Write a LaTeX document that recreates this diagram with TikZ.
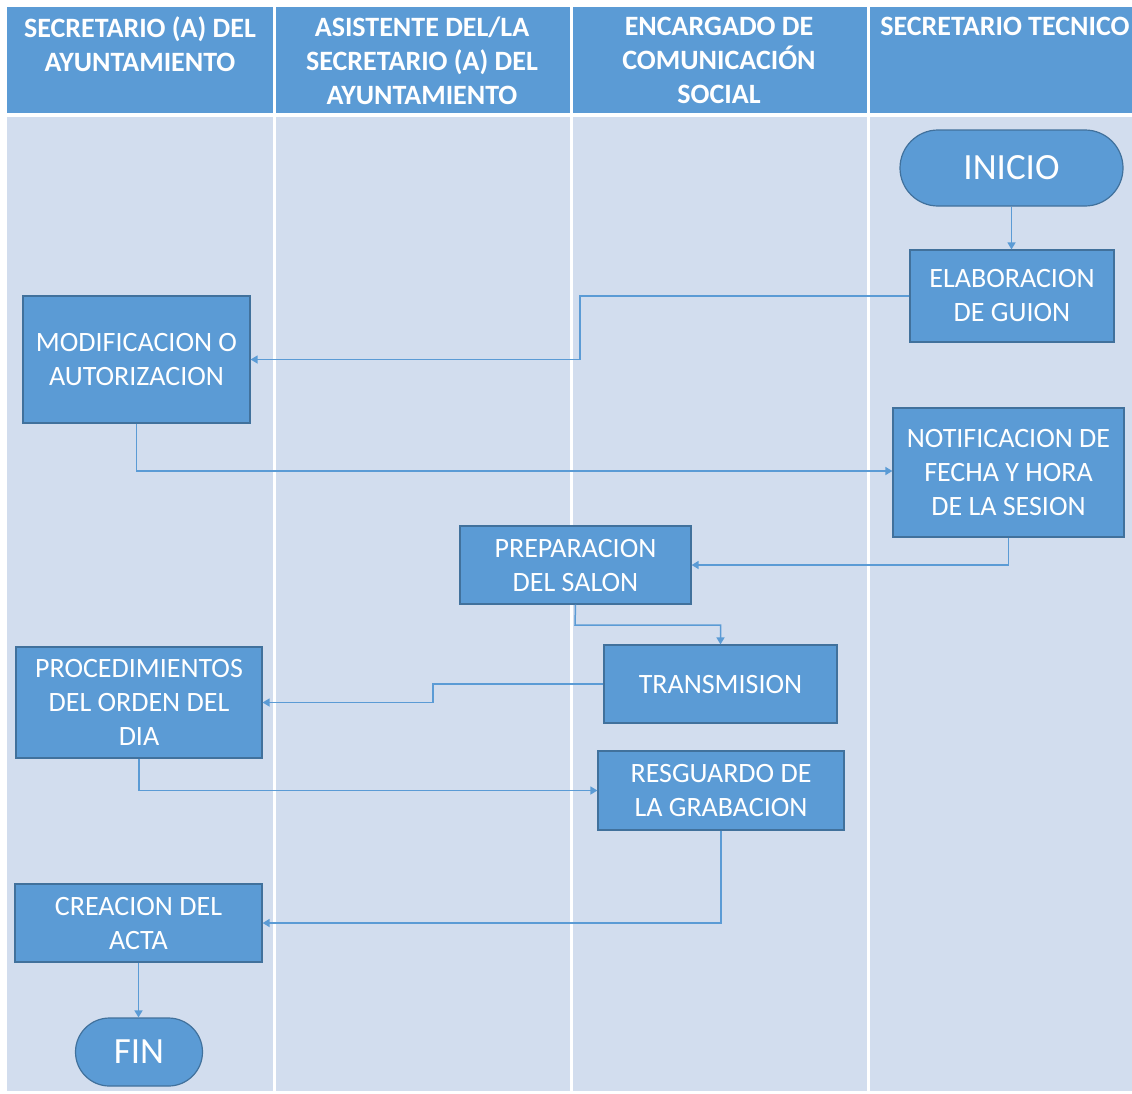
\documentclass[tikz,border=0pt]{standalone}
\usepackage{fontspec}
\setmainfont{Carlito}
\usetikzlibrary{arrows.meta}
\definecolor{hdr}{HTML}{5B9BD5}
\definecolor{bodybg}{HTML}{D2DDEE}
\definecolor{boxfill}{HTML}{5B9BD5}
\definecolor{boxline}{HTML}{41719C}
\definecolor{conncol}{HTML}{5B9BD5}
\tikzset{
  procbox/.style={rectangle, draw=boxline, line width=1.2pt, fill=boxfill, text=white, align=center, inner sep=0pt, font=\fontsize{28}{34}\selectfont},
  termbox/.style={rectangle, draw=boxline, line width=1.2pt, fill=boxfill, text=white, align=center, inner sep=0pt, font=\fontsize{37}{40}\selectfont},
  hdrtext/.style={text=white, align=center, anchor=north, inner sep=0pt, font=\bfseries\fontsize{28}{34}\selectfont},
  conn/.style={draw=conncol, line width=1.5pt, -{Triangle[width=8pt,length=7pt]}},
}
\begin{document}
\begin{tikzpicture}[x=1pt,y=-1pt]
\useasboundingbox (0,0) rectangle (1132,1093);
\fill[white] (0,0) rectangle (1132,1093);
% header
\fill[hdr] (7,7) rectangle (1132,113);
\fill[bodybg] (7,117) rectangle (1132,1091);
% lane separators
\foreach \xx in {274.5,571.5,868.5} \fill[white] (\xx-1.5,7) rectangle (\xx+1.5,1091);
% header texts
\node[hdrtext] (h1) at (140,17) {SECRETARIO (A) DEL\\AYUNTAMIENTO};
\node[hdrtext] (h2) at (422,17) {ASISTENTE DEL/LA\\SECRETARIO (A) DEL\\AYUNTAMIENTO};
\node[hdrtext] (h3) at (719,17) {ENCARGADO DE\\COMUNICACIÓN\\SOCIAL};
\node[hdrtext] (h4) at (1005,17) {SECRETARIO TECNICO};
% nodes
\node[termbox, minimum width=223pt, minimum height=76pt, rounded corners=38pt] (inicio) at (1011.5,168) {INICIO};
\node[procbox, minimum width=204pt, minimum height=92pt] (elab) at (1012,296) {ELABORACION\\DE GUION};
\node[procbox, minimum width=227pt, minimum height=127pt] (modif) at (136.5,359.5) {MODIFICACION O\\AUTORIZACION};
\node[procbox, minimum width=231pt, minimum height=129pt] (notif) at (1008.5,472.5) {NOTIFICACION DE\\FECHA Y HORA\\DE LA SESION};
\node[procbox, minimum width=231pt, minimum height=78pt] (prep) at (575.5,565) {PREPARACION\\DEL SALON};
\node[procbox, minimum width=233pt, minimum height=78pt] (trans) at (720.5,684) {TRANSMISION};
\node[procbox, minimum width=246pt, minimum height=111pt] (proc) at (139,702.5) {PROCEDIMIENTOS\\DEL ORDEN DEL\\DIA};
\node[procbox, minimum width=246pt, minimum height=79pt] (resg) at (721,790.5) {RESGUARDO DE\\LA GRABACION};
\node[procbox, minimum width=247pt, minimum height=78pt] (acta) at (138.5,923) {CREACION DEL\\ACTA};
\node[termbox, minimum width=127pt, minimum height=68pt, rounded corners=34pt] (fin) at (139,1052) {FIN};
% connectors
\draw[conn] (inicio.south) -- (inicio.south |- elab.north);
\draw[conn] (elab.west) -- (580,296) |- (modif.east);
\draw[conn] (modif.south) |- (notif.west |- 0,471) ;
\draw[conn] (notif.south) |- (prep.east);
\draw[conn] (prep.south) -- (575,625) -| (trans.north);
\draw[conn] (trans.west) -- (433,684) |- (proc.east);
\draw[conn] (proc.south) |- (resg.west);
\draw[conn] (resg.south) |- (acta.east);
\draw[conn] (acta.south) -- (acta.south |- fin.north);
\end{tikzpicture}
\end{document}
